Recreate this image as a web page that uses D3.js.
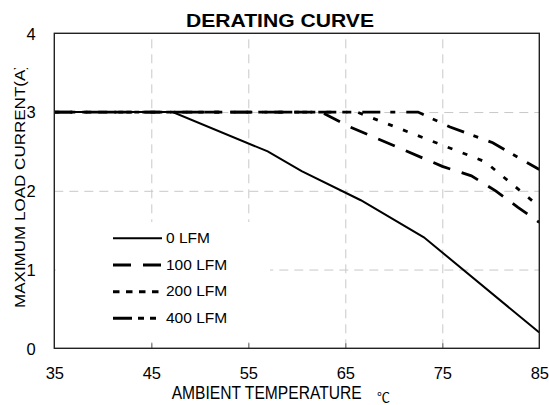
<!DOCTYPE html>
<html>
<head>
<meta charset="utf-8">
<script src="https://cdn.jsdelivr.net/npm/d3@7"></script>
<style>
    body { margin: 0; background: #fff; }
    svg { display: block; font-family: "Liberation Sans", Arial, sans-serif; }
</style>
</head>
<body>
<svg id="chart" width="549" height="405"></svg>
<script>
// data (temperature in C, current in A)
var xTicks = [35, 45, 55, 65, 75, 85];
var yTicks = [0, 1, 2, 3, 4];
var seriesNames = ["0 LFM", "100 LFM", "200 LFM", "400 LFM"];

var lfm0Temp = [35, 47.2, 57, 60.5, 66.6, 73.1, 85];
var lfm0Curr = [3, 3, 2.5, 2.25, 1.88, 1.41, 0.2];

var lfm100Temp = [35, 62.5, 65.5, 75, 78, 80.5, 82.8, 85];
var lfm100Curr = [3, 3, 2.81, 2.31, 2.19, 2.0, 1.79, 1.6];

var lfm200Temp = [35, 66.2, 79.4, 85];
var lfm200Curr = [3, 3, 2.37, 1.8];

var lfm400Temp = [35, 72.5, 75.8, 80.2, 85];
var lfm400Curr = [3, 3, 2.81, 2.61, 2.27];

var seriesTemps = [lfm0Temp, lfm100Temp, lfm200Temp, lfm400Temp];
var seriesCurrs = [lfm0Curr, lfm100Curr, lfm200Curr, lfm400Curr];

// styling per series: dash in the plot, dash in the legend
var plotDash = [null, "18,12", "5,11", "18,10,5,11"];
var legendDash = [null, "18,12", "6.5,6.5", "19,6,6,6,6,6"];
var lineWidth = [2, 2.8, 2.8, 2.8];

var svg = d3.select("#chart"),
    plotLeft = 54.3, plotRight = 539.3, plotTop = 33.3, plotBottom = 348.3,
    width = plotRight - plotLeft, height = plotBottom - plotTop;

var x = d3.scaleLinear().domain([35, 85]).range([plotLeft, plotRight]);
var y = d3.scaleLinear().domain([0, 4]).range([plotBottom, plotTop]);

// grid lines
svg.append("g")
    .attr("class", "x-grid")
    .attr("transform", "translate(0," + plotBottom + ")")
    .call(d3.axisBottom(x).tickValues(xTicks.slice(1, -1)).tickSize(-height).tickFormat(""))
    .call(function (g) { g.select(".domain").remove(); });

svg.append("g")
    .attr("class", "y-grid")
    .attr("transform", "translate(" + plotLeft + ",0)")
    .call(d3.axisLeft(y).tickValues(yTicks.slice(1, -1)).tickSize(-width).tickFormat(""))
    .call(function (g) { g.select(".domain").remove(); });

svg.selectAll(".x-grid line, .y-grid line")
    .attr("stroke", "#c8c8c8")
    .attr("stroke-width", 1)
    .attr("stroke-dasharray", "9,6");

// legend background hides the grid behind it
svg.append("rect")
    .attr("x", plotLeft + 1.5).attr("y", 222)
    .attr("width", 270 - plotLeft - 1.5).attr("height", 120)
    .attr("fill", "#fff");

// small inner ticks on the bottom axis
svg.append("g")
    .attr("transform", "translate(0," + plotBottom + ")")
    .call(d3.axisBottom(x).tickValues(xTicks.slice(1, -1)).tickSize(-5).tickFormat(""))
    .call(function (g) {
        g.select(".domain").remove();
        g.selectAll("line").attr("stroke", "#777").attr("stroke-width", 1.2);
    });

// curves
var line = d3.line()
    .x(function (d) { return x(d[0]); })
    .y(function (d) { return y(d[1]); });

seriesNames.forEach(function (name, i) {
    var pts = seriesTemps[i].map(function (t, j) { return [t, seriesCurrs[i][j]]; });
    svg.append("path")
        .datum(pts)
        .attr("d", line)
        .attr("fill", "none")
        .attr("stroke", "#000")
        .attr("stroke-width", lineWidth[i])
        .attr("stroke-dasharray", plotDash[i]);
});

// frame
svg.append("rect")
    .attr("x", plotLeft).attr("y", plotTop)
    .attr("width", width).attr("height", height)
    .attr("fill", "none")
    .attr("stroke", "#222")
    .attr("stroke-width", 1.4);

// tick labels
var xAxis = svg.append("g")
    .attr("transform", "translate(0," + plotBottom + ")")
    .call(d3.axisBottom(x).tickValues(xTicks).tickSize(0).tickFormat(d3.format("d")));
xAxis.select(".domain").remove();
xAxis.selectAll("text")
    .attr("y", 31).attr("dy", 0)
    .attr("font-size", 16.5).attr("font-family", "Liberation Sans, Arial, sans-serif")
    .attr("fill", "#000");

var yAxis = svg.append("g")
    .attr("transform", "translate(" + plotLeft + ",0)")
    .call(d3.axisLeft(y).tickValues(yTicks).tickSize(0).tickFormat(d3.format("d")));
yAxis.select(".domain").remove();
yAxis.selectAll("text")
    .attr("x", -18.5).attr("dy", 5.8)
    .attr("font-size", 16.5).attr("font-family", "Liberation Sans, Arial, sans-serif")
    .attr("fill", "#000");

// legend
var legendRowY = [238.3, 265, 291.7, 318.3];
seriesNames.forEach(function (name, i) {
    svg.append("line")
        .attr("x1", 113).attr("x2", 162)
        .attr("y1", legendRowY[i]).attr("y2", legendRowY[i])
        .attr("stroke", "#000")
        .attr("stroke-width", i === 0 ? 2 : 3)
        .attr("stroke-dasharray", legendDash[i]);
    svg.append("text")
        .attr("x", 166).attr("y", legendRowY[i] + 4.5)
        .attr("font-size", 15.5)
        .text(name);
});

// titles
svg.append("text")
    .attr("x", 280).attr("y", 26.7)
    .attr("text-anchor", "middle")
    .attr("font-size", 19).attr("font-weight", "bold")
    .attr("textLength", 188).attr("lengthAdjust", "spacingAndGlyphs")
    .text("DERATING CURVE");

svg.append("text")
    .attr("x", 171.7).attr("y", 399.3)
    .attr("font-size", 15.5)
    .attr("textLength", 190).attr("lengthAdjust", "spacingAndGlyphs")
    .attr("transform", "translate(171.7,399.3) scale(1,1.15) translate(-171.7,-399.3)")
    .text("AMBIENT TEMPERATURE");

svg.append("text")
    .attr("x", 377).attr("y", 401.5)
    .attr("font-size", 13)
    .attr("font-family", "Noto Sans CJK SC, sans-serif")
    .text("℃");

// y title, its closing bracket is cut off at the top like in the source
svg.append("clipPath").attr("id", "ytitle-clip")
    .append("rect").attr("x", 0).attr("y", 68).attr("width", 40).attr("height", 300);

svg.append("g")
    .attr("clip-path", "url(#ytitle-clip)")
    .append("text")
    .attr("transform", "translate(25,308) rotate(-90)")
    .attr("font-size", 15.5)
    .attr("textLength", 244).attr("lengthAdjust", "spacingAndGlyphs")
    .text("MAXIMUM LOAD CURRENT(A)");
</script>
</body>
</html>
